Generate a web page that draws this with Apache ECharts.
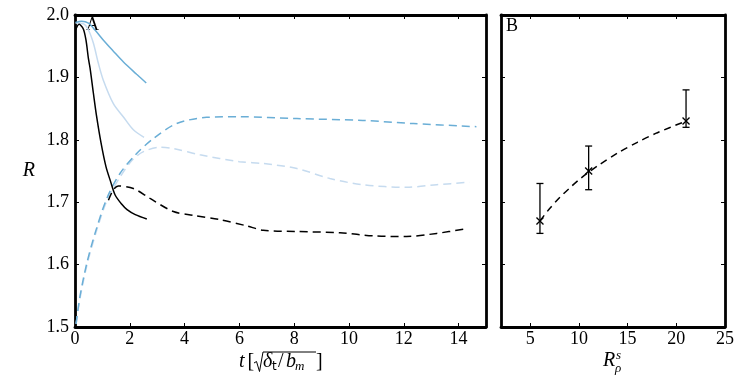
<!DOCTYPE html>
<html>
<head>
<meta charset="utf-8">
<script src="https://cdn.jsdelivr.net/npm/echarts@6/dist/echarts.min.js"></script>
<style>
  html, body { margin: 0; padding: 0; background: #fff; }
  #chart { width: 747px; height: 376px; }
</style>
</head>
<body>
<div id="chart"></div>
<script>
// panel A: [t, R] pairs
const blackSolid = [[0.02, 1.976], [0.15, 1.985], [0.3, 1.978], [0.4, 1.96], [0.49, 1.93], [0.55, 1.915], [0.67, 1.875], [0.79, 1.837], [0.95, 1.795], [1.13, 1.757], [1.3, 1.733], [1.46, 1.712], [1.7, 1.697], [1.9, 1.688], [2.2, 1.680], [2.62, 1.673]]
const blueSolid = [[0.02, 1.988], [0.24, 1.990], [0.49, 1.987], [0.73, 1.976], [1.03, 1.96], [1.4, 1.942], [1.76, 1.925], [2.25, 1.905], [2.6, 1.891]]
const lightSolid = [[0.02, 1.987], [0.3, 1.986], [0.49, 1.976], [0.67, 1.955], [0.85, 1.923], [1.03, 1.896], [1.4, 1.858], [1.76, 1.837], [2.13, 1.816], [2.52, 1.804]]
const blueDashed = [[0.04, 1.505], [0.18, 1.549], [0.43, 1.602], [0.73, 1.650], [1.16, 1.706], [1.64, 1.746], [2.25, 1.778], [2.86, 1.802], [3.71, 1.826], [4.8, 1.836], [6.0, 1.837], [8.1, 1.834], [10.5, 1.831], [12.35, 1.826], [14.65, 1.821]]
const lightDashed = [[0.04, 1.505], [0.18, 1.545], [0.43, 1.598], [0.73, 1.646], [1.16, 1.702], [1.64, 1.740], [2.1, 1.768], [2.5, 1.781], [3.1, 1.788], [3.6, 1.786], [4.56, 1.776], [6.0, 1.765], [6.87, 1.762], [8.1, 1.754], [9.3, 1.738], [10.5, 1.728], [12.1, 1.724], [13.2, 1.728], [14.4, 1.732]]
const blackDashed = [[1.22, 1.703], [1.4, 1.72], [1.58, 1.726], [2.13, 1.722], [2.74, 1.706], [3.59, 1.685], [4.32, 1.679], [5.29, 1.672], [6.27, 1.662], [6.87, 1.655], [8.1, 1.653], [9.67, 1.651], [10.9, 1.646], [12.1, 1.645], [13.2, 1.650], [14.23, 1.657]]

// panel B
const rsX = [6, 11, 21]
const rsR = [1.67, 1.75, 1.83]
const rsLow = [1.65, 1.72, 1.82]
const rsHigh = [1.73, 1.79, 1.88]
const fitCurve = [[6, 1.670], [7, 1.690], [8, 1.707], [9, 1.722], [10, 1.736], [11, 1.748], [12, 1.759], [14, 1.779], [16, 1.796], [18, 1.811], [21, 1.830]]

// ticks
const tTicks = [0, 2, 4, 6, 8, 10, 12, 14]
const rsTicks = [5, 10, 15, 20, 25]
const rTicks = [1.5, 1.6, 1.7, 1.8, 1.9, 2.0]

const BLUE = '#6aaed6'
const LIGHT = '#c6dbef'
const FONT = 'Liberation Serif'

const frame = {show: true, onZero: false, lineStyle: {color: '#000', width: 2.8}}

function xAx(gi, pos, min, max, ticks, labels) {
  return {
    type: 'value', gridIndex: gi, position: pos, min: min, max: max,
    axisLine: frame,
    axisTick: {show: true, inside: true, length: 4, customValues: ticks, lineStyle: {color: '#000', width: 1}},
    axisLabel: {show: labels, customValues: ticks, margin: 3, color: '#000', fontFamily: FONT, fontSize: 18},
    splitLine: {show: false}
  }
}
function yAx(gi, pos, labels) {
  return {
    type: 'value', gridIndex: gi, position: pos, min: 1.5, max: 2.0,
    axisLine: frame,
    axisTick: {show: true, inside: true, length: 4, customValues: rTicks, lineStyle: {color: '#000', width: 1}},
    axisLabel: {show: labels, customValues: rTicks, margin: 6, color: '#000', fontFamily: FONT, fontSize: 18,
      formatter: v => v.toFixed(1)},
    splitLine: {show: false}
  }
}

const xAxes = [
  xAx(0, 'bottom', 0, 15, tTicks, true),
  xAx(0, 'top', 0, 15, tTicks, false),
  xAx(1, 'bottom', 2, 25, rsTicks, true),
  xAx(1, 'top', 2, 25, rsTicks, false)
]

const yAxes = [
  yAx(0, 'left', true),
  yAx(0, 'right', false),
  yAx(1, 'left', false),
  yAx(1, 'right', false)
]
yAxes[0].name = 'R'
yAxes[0].nameLocation = 'middle'
yAxes[0].nameRotate = 0
yAxes[0].nameGap = 40
yAxes[0].nameTextStyle = {color: '#000', fontFamily: FONT, fontSize: 20, fontStyle: 'italic'}

function line(data, color, dashed) {
  return {
    type: 'line', xAxisIndex: 0, yAxisIndex: 0, data: data, showSymbol: false,
    smooth: 0.3,
    lineStyle: {color: color, width: 1.5, type: dashed ? [8, 5] : 'solid'},
    z: 2
  }
}

// axis titles pieced together (sqrt with overline, stacked sub/superscript)
function txt(s, x, y, size, italic, family) {
  return {
    type: 'text', x: x, y: y,
    style: {text: s, fill: '#000', verticalAlign: 'middle',
      font: (italic ? 'italic ' : '') + size + 'px "' + (family || FONT) + '"'}
  }
}
const titles = [
  txt('A', 86, 25, 18, false),
  txt('B', 506, 26, 18, false),
  txt('t', 239, 362, 20, true),
  txt('[', 247.5, 362, 20, false),
  {type: 'polyline', shape: {points: [[254, 363], [256.5, 361.5], [259.5, 371.5], [263, 352], [316, 352]]},
    style: {stroke: '#000', lineWidth: 1, fill: null}},
  txt('δ', 263, 362, 20, true),
  txt('t', 272, 367, 12, false, 'DejaVu Sans'),
  txt('/', 278, 362, 20, false),
  txt('b', 286, 362, 20, true),
  txt('m', 295, 367, 13, true),
  txt(']', 316, 362, 20, false),
  txt('R', 603, 361, 20, true),
  txt('s', 616, 356, 13, true),
  txt('ρ', 615, 369, 13, true)
]

const errData = rsX.map((x, i) => [x, rsR[i], rsLow[i], rsHigh[i]])

const option = {
  animation: false,
  backgroundColor: '#fff',
  grid: [
    {left: 75, top: 15, width: 411, height: 312},
    {left: 501, top: 15, width: 224, height: 312}
  ],
  xAxis: xAxes,
  yAxis: yAxes,
  graphic: titles,
  series: [
    line(lightDashed, LIGHT, true),
    line(lightSolid, LIGHT, false),
    line(blueDashed, BLUE, true),
    line(blueSolid, BLUE, false),
    line(blackDashed, '#000', true),
    line(blackSolid, '#000', false),
    {
      type: 'line', xAxisIndex: 2, yAxisIndex: 2, data: fitCurve, showSymbol: false, smooth: 0.3,
      lineStyle: {color: '#000', width: 1.5, type: [7, 5]}
    },
    {
      type: 'custom', xAxisIndex: 2, yAxisIndex: 2, data: errData,
      renderItem: function (params, api) {
        const c = api.coord([api.value(0), api.value(1)])
        const lo = api.coord([api.value(0), api.value(2)])
        const hi = api.coord([api.value(0), api.value(3)])
        const cap = 3.5, m = 3.5
        const st = {stroke: '#000', lineWidth: 1.3}
        return {
          type: 'group',
          children: [
            {type: 'line', shape: {x1: lo[0], y1: lo[1], x2: hi[0], y2: hi[1]}, style: st},
            {type: 'line', shape: {x1: lo[0] - cap, y1: lo[1], x2: lo[0] + cap, y2: lo[1]}, style: st},
            {type: 'line', shape: {x1: hi[0] - cap, y1: hi[1], x2: hi[0] + cap, y2: hi[1]}, style: st},
            {type: 'line', shape: {x1: c[0] - m, y1: c[1] - m, x2: c[0] + m, y2: c[1] + m}, style: st},
            {type: 'line', shape: {x1: c[0] - m, y1: c[1] + m, x2: c[0] + m, y2: c[1] - m}, style: st}
          ]
        }
      },
      z: 3
    }
  ]
}

const chart = echarts.init(document.getElementById('chart'), null, {renderer: 'canvas'})
chart.setOption(option)
</script>
</body>
</html>
